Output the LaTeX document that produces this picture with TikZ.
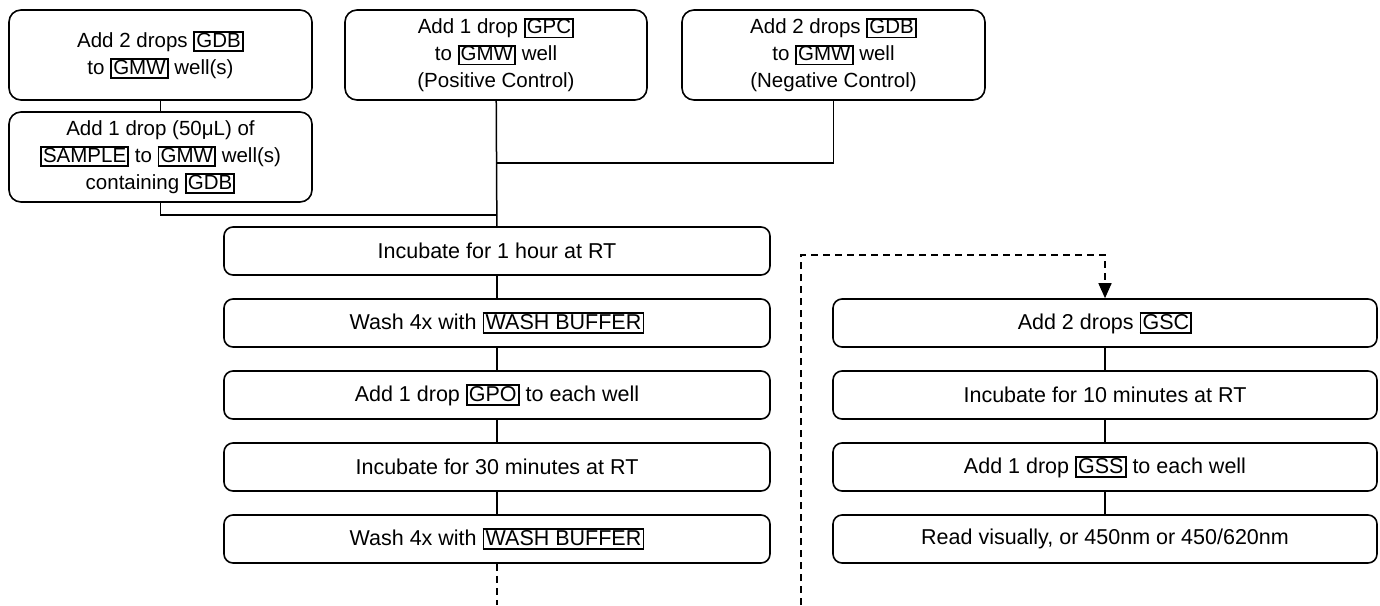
\documentclass[tikz,border=0pt]{standalone}
\usepackage{fontspec}
\setmainfont{Liberation Sans}
\usetikzlibrary{arrows.meta}
\newcommand\topfnt{\fontsize{20.5}{27}\selectfont}
\newcommand\stepfnt{\fontsize{21.5}{26}\selectfont}
\newcommand\kw[1]{{\setlength\fboxsep{0pt}\setlength\fboxrule{1.8pt}\fbox{\rule[-2.6pt]{0pt}{\dimexpr\fontcharht\font`B+2.6pt\relax}\kern1.2pt#1\kern1.2pt}}}
\begin{document}
\begin{tikzpicture}[x=1pt,y=-1pt,
  box/.style={draw, line width=1.6pt, rounded corners=12pt, align=center, inner sep=0pt,
    minimum width=303pt, minimum height=90pt, font=\topfnt},
  stepbox/.style={draw, line width=1.6pt, rounded corners=9pt, align=center, inner sep=0pt,
    minimum width=546pt, minimum height=48pt, font=\stepfnt},
  rbox/.style={stepbox, minimum width=544pt},
  conn/.style={line width=1.5pt},
  dconn/.style={line width=1.5pt, dash pattern=on 7pt off 5pt}]
\useasboundingbox (0,0) rectangle (1380,605);
\node[box] (a) at (160.5,55) {Add 2 drops \kw{GDB}\\to \kw{GMW} well(s)};
\node[box] (b) at (160.5,157) {Add 1 drop (50μL) of\\\kw{SAMPLE} to \kw{GMW} well(s)\\containing \kw{GDB}};
\node[box, minimum width=302pt] (c) at (496,55) {Add 1 drop \kw{GPC}\\to \kw{GMW} well\\(Positive Control)};
\node[box] (d) at (833.5,55) {Add 2 drops \kw{GDB}\\to \kw{GMW} well\\(Negative Control)};
\node[stepbox] (m1) at (497,251) {Incubate for 1 hour at RT};
\node[stepbox] (m2) at (497,323) {Wash 4x with \kw{WASH BUFFER}};
\node[stepbox] (m3) at (497,395) {Add 1 drop \kw{GPO} to each well};
\node[stepbox] (m4) at (497,467) {Incubate for 30 minutes at RT};
\node[stepbox] (m5) at (497,539) {Wash 4x with \kw{WASH BUFFER}};
\node[rbox] (r1) at (1105,323) {Add 2 drops \kw{GSC}};
\node[rbox] (r2) at (1105,395) {Incubate for 10 minutes at RT};
\node[rbox] (r3) at (1105,467) {Add 1 drop \kw{GSS} to each well};
\node[rbox] (r4) at (1105,539) {Read visually, or 450nm or 450/620nm};
\coordinate (j1) at (497,215);
\coordinate (j2) at (497,163);
\coordinate (e1) at (497,605);
\coordinate (e2) at (801,605);
\coordinate (k1) at (1105,255);
\draw[conn] (a) -- (b);
\draw[conn] (b.south) |- (j1);
\draw[conn] (d.south) |- (j2);
\draw[conn] (c) -- (m1);
\draw[conn] (m1) -- (m2);
\draw[conn] (m2) -- (m3);
\draw[conn] (m3) -- (m4);
\draw[conn] (m4) -- (m5);
\draw[dconn] (m5) -- (e1);
\draw[dconn, -{Triangle[length=15pt,width=13pt]}] (e2) |- (k1) -- (r1);
\draw[conn] (r1) -- (r2);
\draw[conn] (r2) -- (r3);
\draw[conn] (r3) -- (r4);
\end{tikzpicture}
\end{document}
